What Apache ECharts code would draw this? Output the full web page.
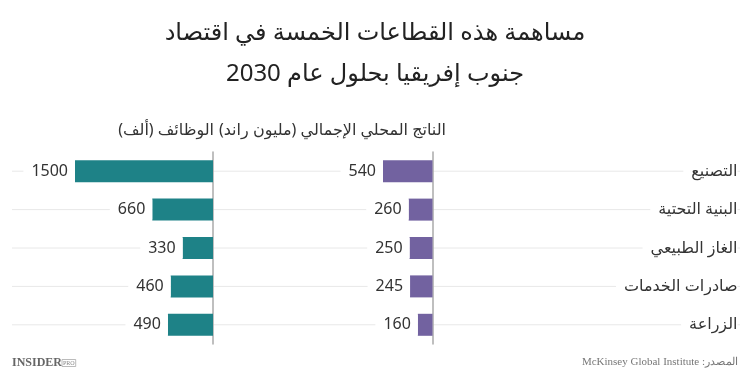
<!DOCTYPE html>
<html>
<head>
<meta charset="utf-8">
<script src="https://cdn.jsdelivr.net/npm/echarts@6/dist/echarts.min.js"></script>
<style>html,body{margin:0;padding:0;background:#fff}#c{width:750px;height:380px}</style>
</head>
<body>
<div id="c"></div>
<script>
const categories = ['التصنيع', 'البنية التحتية', 'الغاز الطبيعي', 'صادرات الخدمات', 'الزراعة'];
const jobs = [1500, 660, 330, 460, 490];
const gdp = [540, 260, 250, 245, 160];
const titleLines = ['مساهمة هذه القطاعات الخمسة في اقتصاد', 'جنوب إفريقيا بحلول عام 2030'];
const jobsHeader = 'الوظائف (ألف)';
const gdpHeader = 'الناتج المحلي الإجمالي (مليون راند)';
const sourceText = 'McKinsey Global Institute :المصدر';

const FONT = "'Noto Sans', 'DejaVu Sans', sans-serif";
const TOP = 152, BOTTOM = 36;
const chart = echarts.init(document.getElementById('c'));

const valueLabel = {
  show: true, position: 'left', distance: 0,
  color: '#333', fontSize: 16, fontFamily: FONT,
  backgroundColor: '#fff', padding: [2, 7, 2, 8]
};

chart.setOption({
  animation: false,
  title: {
    text: titleLines.join('\n'),
    left: 'center', top: 8,
    textStyle: { fontSize: 24, fontWeight: 'normal', color: '#222', fontFamily: FONT, lineHeight: 41 }
  },
  grid: [
    { left: 12, right: 10, top: TOP, bottom: BOTTOM },
    { left: 75, width: 138, top: TOP, bottom: BOTTOM },
    { left: 383, width: 49.5, top: TOP, bottom: BOTTOM }
  ],
  xAxis: [
    { gridIndex: 0, type: 'value', min: 0, max: 1, show: false },
    { gridIndex: 1, type: 'value', min: 0, max: 1500, inverse: true, show: false },
    { gridIndex: 2, type: 'value', min: 0, max: 540, inverse: true, show: false }
  ],
  yAxis: [
    { gridIndex: 0, type: 'category', data: categories, inverse: true, show: false },
    { gridIndex: 1, type: 'category', data: categories, inverse: true, position: 'right',
      axisLine: { show: true, lineStyle: { color: '#aaa', width: 1.5 } },
      axisTick: { show: false }, axisLabel: { show: false } },
    { gridIndex: 2, type: 'category', data: categories, inverse: true, position: 'right',
      axisLine: { show: true, lineStyle: { color: '#aaa', width: 1.5 } },
      axisTick: { show: false },
      axisLabel: { show: true, align: 'right', margin: 305, color: '#333', fontSize: 16,
        fontFamily: FONT, backgroundColor: '#fff', padding: [2, 0, 2, 8] } }
  ],
  graphic: [
    { type: 'text', right: 750 - 214, top: 122, style: { text: jobsHeader, fill: '#333', font: '16px ' + FONT } },
    { type: 'text', right: 750 - 446, top: 122, style: { text: gdpHeader, fill: '#333', font: '16px ' + FONT } },
    { type: 'text', left: 12, top: 357, style: {
        text: '{a|INSIDER}{b|PRO}',
        rich: {
          a: { fontFamily: "'Liberation Serif', 'DejaVu Serif', serif", fontWeight: 'bold', fontSize: 12, fill: '#666' },
          b: { fontFamily: "'Liberation Serif', serif", fontSize: 6, fill: '#888', borderColor: '#aaa', borderWidth: 0.8, padding: [1, 1, 0, 1] }
        } } },
    { type: 'text', right: 12, top: 357, style: { text: sourceText, font: "11px 'Liberation Serif', 'DejaVu Serif', serif", fill: '#777' } }
  ],
  series: [
    {
      type: 'custom', xAxisIndex: 0, yAxisIndex: 0, z: 0, silent: true,
      data: categories.map((c, i) => [0, i]),
      renderItem: function (params, api) {
        const y = api.coord([0, api.value(1)])[1];
        const cs = params.coordSys;
        return { type: 'line', shape: { x1: cs.x, y1: y, x2: cs.x + cs.width, y2: y },
          style: { stroke: '#e8e8e8', lineWidth: 1 } };
      }
    },
    {
      type: 'bar', xAxisIndex: 1, yAxisIndex: 1, data: jobs, barWidth: 22,
      itemStyle: { color: '#1e8287' }, label: valueLabel, z: 3
    },
    {
      type: 'bar', xAxisIndex: 2, yAxisIndex: 2, data: gdp, barWidth: 22,
      itemStyle: { color: '#7262a0' }, label: valueLabel, z: 3
    }
  ]
});
</script>
</body>
</html>
